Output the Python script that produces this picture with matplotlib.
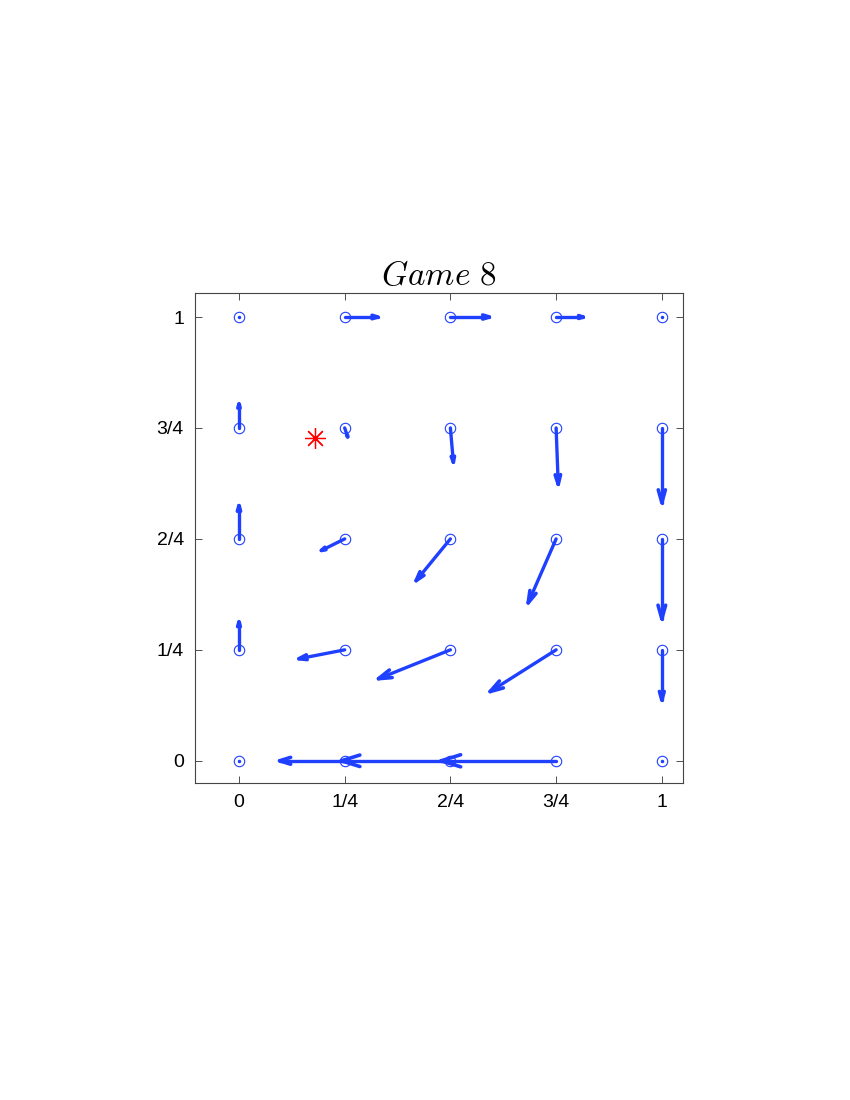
import numpy as np
import matplotlib

matplotlib.use("Agg")
from matplotlib import pyplot as plt

plt.rcParams["mathtext.fontset"] = "cm"

# grid of states and the drift vector measured at each one
GRID = [0, 0.25, 0.5, 0.75, 1]
TICK_LABELS = ["0", "1/4", "2/4", "3/4", "1"]

# rows from y = 0 (bottom) to y = 1 (top), columns x = 0 .. 1
U = [
    [0.0, -0.154, -0.258, -0.272, 0.0],
    [0.0, -0.108, -0.170, -0.156, 0.0],
    [0.0, -0.055, -0.081, -0.066, 0.0],
    [0.0, 0.007, 0.007, 0.005, 0.0],
    [0.0, 0.078, 0.092, 0.064, 0.0],
]
V = [
    [0.0, 0.0, 0.0, 0.0, 0.0],
    [0.063, -0.020, -0.065, -0.094, -0.113],
    [0.075, -0.026, -0.094, -0.144, -0.180],
    [0.054, -0.020, -0.077, -0.127, -0.168],
    [0.0, 0.0, 0.0, 0.0, 0.0],
]

EQUILIBRIUM = (0.18, 0.727)

BLUE = "#2040ff"
HEAD_LENGTH = 0.17
HEAD_WIDTH = 0.05

fig = plt.figure(figsize=(8.5, 11), dpi=100)
ax = fig.add_axes([0.2294, 0.2882, 0.5741, 0.4454])

xs, ys = np.meshgrid(GRID, GRID)
u = np.array(U)
v = np.array(V)

for x0, y0, du, dv in zip(xs.ravel(), ys.ravel(), u.ravel(), v.ravel()):
    length = np.hypot(du, dv)
    if length == 0:
        ax.plot(x0, y0, ".", color=BLUE, markersize=3)
        continue
    tip = np.array([x0 + du, y0 + dv])
    back = np.array([du, dv]) / length
    perp = np.array([-back[1], back[0]])
    ax.plot([x0, tip[0]], [y0, tip[1]], color=BLUE, lw=2.4, solid_capstyle="round")
    for side in (1, -1):
        barb = tip - HEAD_LENGTH * length * back + side * HEAD_WIDTH * length * perp
        ax.plot([barb[0], tip[0]], [barb[1], tip[1]], color=BLUE, lw=2.6,
                solid_capstyle="round")

ax.plot(xs.ravel(), ys.ravel(), "o", mfc="none", mec=BLUE, markersize=7.5, mew=0.8)
ax.plot(*EQUILIBRIUM, marker=(8, 2, 0), color="red", markersize=15, mew=0.9)

ax.set_xlim(-0.104, 1.05)
ax.set_ylim(-0.05, 1.054)
ax.set_xticks(GRID, TICK_LABELS)
ax.set_yticks(GRID, TICK_LABELS)
ax.tick_params(direction="in", top=True, right=True, length=5, width=0.6,
               labelsize=14, pad=8, colors="#333333", labelcolor="black")
for label in ax.get_xticklabels() + ax.get_yticklabels():
    label.set_fontfamily("Liberation Sans")
for spine in ax.spines.values():
    spine.set_color("#444444")
    spine.set_linewidth(0.8)

ax.set_title(r"$Game\ 8$", fontsize=24, pad=6)

fig.savefig("out.png", dpi=100)
